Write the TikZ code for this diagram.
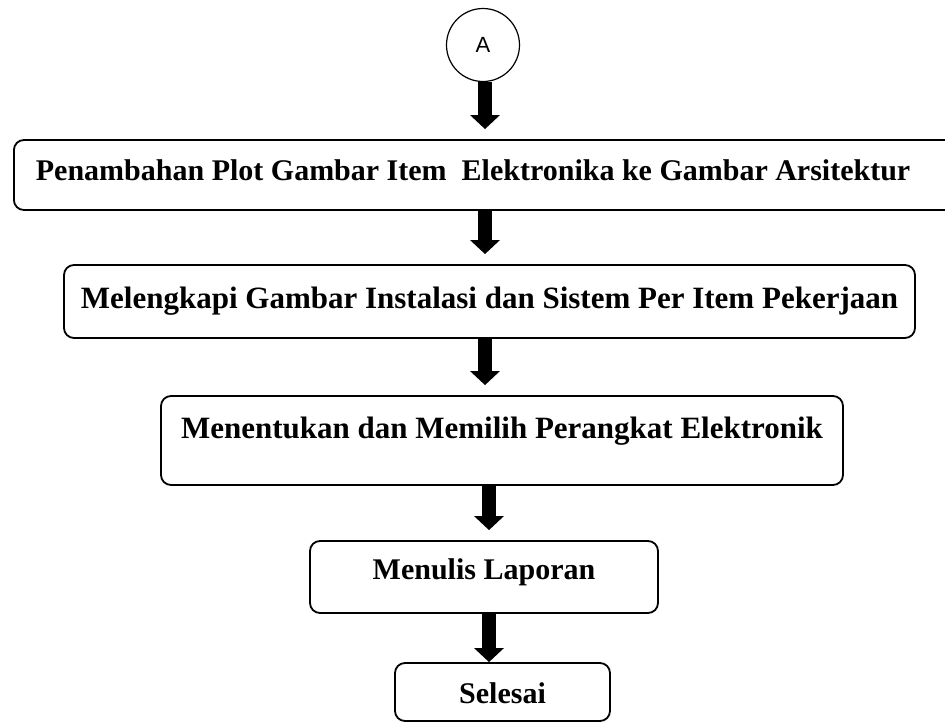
\documentclass[tikz,border=0pt]{standalone}
\usepackage{fontspec}
\setmainfont{Liberation Serif}
\setsansfont{Liberation Sans}
\usetikzlibrary{arrows.meta}
\begin{document}
\begin{tikzpicture}
		[x=1pt,y=-1pt,
		prosesbox/.style={draw,line width=1.8pt,rounded corners=10pt,inner xsep=0pt,inner ysep=0pt,font=\fontsize{30}{36}\selectfont\bfseries},
		konektor/.style={circle,draw,line width=1.2pt,minimum size=73pt,inner sep=0pt,font=\sffamily\fontsize{22}{26}\selectfont},
		panah/.style={line width=14pt,-{Triangle[width=29pt,length=14pt]},shorten >=10pt},]
		\useasboundingbox (0,0) rectangle (945,723);
		\node[konektor,name=A] at (483,45) {A};
		\node[prosesbox,name=1,anchor=base west,inner xsep=22pt,text width=913pt,align=flush left,text height=40pt,text depth=30pt] at (13,180)
		{Penambahan Plot Gambar Item\ \ Elektronika ke Gambar Arsitektur};
		\node[prosesbox,name=2,anchor=base,minimum width=851pt,text height=43pt,text depth=30pt,font=\fontsize{31}{36}\selectfont\bfseries] at (489.5,308)
		{Melengkapi Gambar Instalasi dan Sistem Per Item Pekerjaan};
		\node[prosesbox,name=3,anchor=base,minimum width=682pt,text height=42pt,text depth=47pt,font=\fontsize{31}{36}\selectfont\bfseries] at (502,438)
		{Menentukan dan Memilih Perangkat Elektronik};
		\node[prosesbox,name=4,anchor=base,minimum width=348pt,text height=38pt,text depth=34pt] at (484,579)
		{Menulis Laporan};
		\node[prosesbox,name=5,anchor=base,minimum width=215pt,text height=40pt,text depth=18pt] at (502.5,703)
		{Selesai};
		\draw[panah] ([xshift=2pt]A.south) -- ([xshift=2pt]A.south |- 1.north);
		\draw[panah] ([xshift=2pt]A.south |- 1.south) -- ([xshift=2pt]A.south |- 2.north);
		\draw[panah] ([xshift=2pt]A.south |- 2.south) -- ([xshift=2pt]A.south |- 3.north);
		\draw[panah] ([xshift=5pt]4.north |- 3.south) -- ([xshift=5pt]4.north);
		\draw[panah,shorten >=0pt] ([xshift=5pt]4.south) -- ([xshift=5pt]4.south |- 5.north);
	\end{tikzpicture}
\end{document}
